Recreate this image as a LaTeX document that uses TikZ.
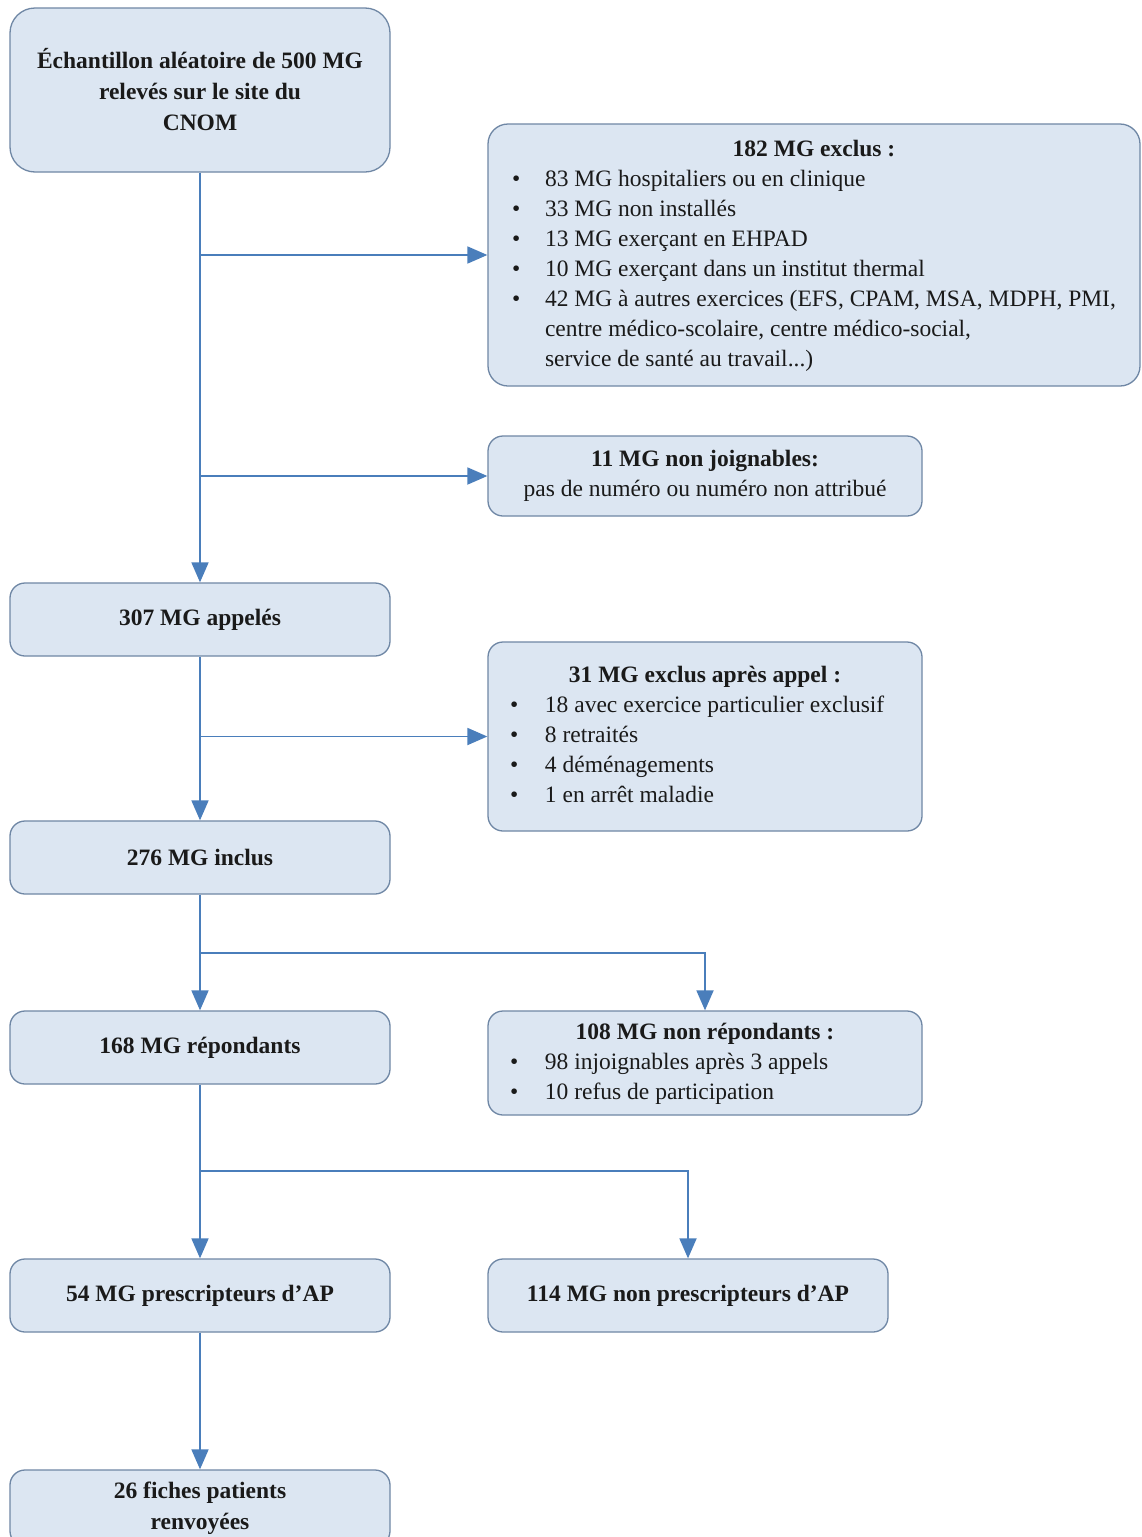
\documentclass[tikz,border=0pt]{standalone}
\usepackage{fontspec}
\setmainfont{Liberation Serif}
\usetikzlibrary{arrows.meta}
\definecolor{boxfill}{HTML}{DCE6F2}
\definecolor{boxline}{HTML}{6F87A5}
\definecolor{arr}{HTML}{4A7EBB}
\definecolor{txt}{HTML}{1A1A1A}
\begin{document}
\begin{tikzpicture}[x=1pt,y=-1pt,
  box/.style={draw=boxline, line width=1.3pt, fill=boxfill, rounded corners=15pt,
    inner sep=0pt, text=txt, font=\fontsize{23.5}{30}\selectfont, align=center},
  boldbox/.style={box, font=\fontsize{23.5}{31}\selectfont\bfseries},
  conn/.style={draw=arr, line width=1.8pt, -{Triangle[length=20pt,width=17pt]}}]
\useasboundingbox (0,0) rectangle (1142,1537);
\fill[white] (0,0) rectangle (1142,1537);

\node[boldbox, rounded corners=25pt, minimum width=380pt, minimum height=164pt] (ech) at (200,90)
  {Échantillon aléatoire de 500 MG\\relevés sur le site du\\CNOM};

\node[box, rounded corners=20pt, minimum width=652pt, minimum height=262pt] (ex) at (814,255)
  {\begin{tabular}{@{}p{33pt}@{}l@{}}
   \multicolumn{2}{@{}c@{}}{\bfseries 182 MG exclus :}\\
   \textbullet & 83 MG hospitaliers ou en clinique\\
   \textbullet & 33 MG non installés\\
   \textbullet & 13 MG exerçant en EHPAD\\
   \textbullet & 10 MG exerçant dans un institut thermal\\
   \textbullet & 42 MG à autres exercices (EFS, CPAM, MSA, MDPH, PMI,\\
               & centre médico-scolaire, centre médico-social,\\
               & service de santé au travail...)
   \end{tabular}};

\node[box, minimum width=434pt, minimum height=80pt] (nj) at (705,476)
  {{\bfseries 11 MG non joignables:}\\pas de numéro ou numéro non attribué};

\node[boldbox, minimum width=380pt, minimum height=73pt] (app) at (200,619.5) {307 MG appelés};

\node[box, minimum width=434pt, minimum height=189pt] (exa) at (705,736.5)
  {\begin{tabular}{@{}p{35pt}@{}p{355pt}@{}}
   \multicolumn{2}{@{}c@{}}{\bfseries 31 MG exclus après appel :}\\
   \textbullet & 18 avec exercice particulier exclusif\\
   \textbullet & 8 retraités\\
   \textbullet & 4 déménagements\\
   \textbullet & 1 en arrêt maladie
   \end{tabular}};

\node[boldbox, minimum width=380pt, minimum height=73pt] (inc) at (200,857.5) {276 MG inclus};

\node[boldbox, minimum width=380pt, minimum height=73pt] (rep) at (200,1047.5) {168 MG répondants};

\node[box, minimum width=434pt, minimum height=104pt] (nrep) at (705,1063)
  {\begin{tabular}{@{}p{35pt}@{}p{355pt}@{}}
   \multicolumn{2}{@{}c@{}}{\bfseries 108 MG non répondants :}\\
   \textbullet & 98 injoignables après 3 appels\\
   \textbullet & 10 refus de participation
   \end{tabular}};

\node[boldbox, minimum width=380pt, minimum height=73pt] (pres) at (200,1295.5) {54 MG prescripteurs d’AP};

\node[boldbox, minimum width=400pt, minimum height=73pt] (npres) at (688,1295.5) {114 MG non prescripteurs d’AP};

\node[boldbox, minimum width=380pt, minimum height=76pt] (fich) at (200,1508) {26 fiches patients\\renvoyées};

\coordinate (j4) at (200,953);
\coordinate (j5) at (200,1171);

\draw[conn] (ech.south) -- (app.north);
\draw[conn] (ech.south |- ex.west) -- (ex.west);
\draw[conn] (ech.south |- nj.west) -- (nj.west);
\draw[conn] (app.south) -- (inc.north);
\draw[conn] (app.south |- exa.west) -- (exa.west);
\draw[conn] (inc.south) -- (rep.north);
\draw[conn] (j4) -| (nrep.north);
\draw[conn] (rep.south) -- (pres.north);
\draw[conn] (j5) -| (npres.north);
\draw[conn] (pres.south) -- (fich.north);
\end{tikzpicture}
\end{document}
